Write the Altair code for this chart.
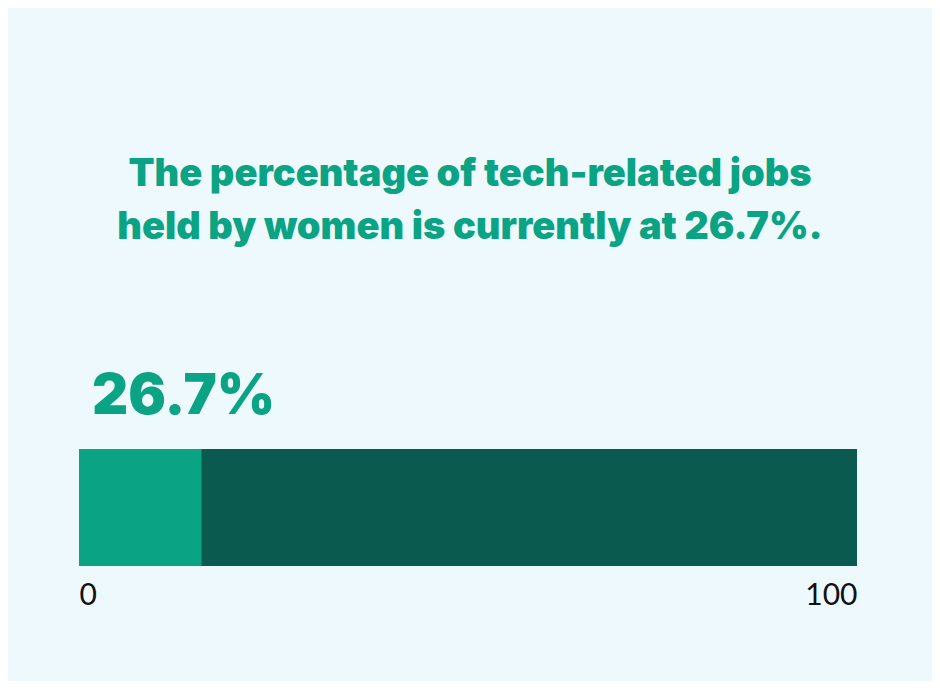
import altair as alt
import pandas as pd

# headline numbers and text
title_lines = ["The percentage of tech-related jobs", "held by women is currently at 26.7%."]
headline_value = [26.7]
segment_names = ["Women", "Everyone else"]
segment_start = [0, 15.7]
segment_end = [15.7, 100]
segment_colors = ["#0AA384", "#0B5A4F"]
axis_ticks = [0, 100]

BG = "#EEF9FE"
GREEN = "#0AA384"
HEAVY = "Inter"

bars_df = pd.DataFrame({"segment": segment_names, "start": segment_start, "end": segment_end})

bars = alt.Chart(bars_df).mark_bar(cornerRadius=0).encode(
    x=alt.X("start:Q", scale=alt.Scale(domain=[0, 100], nice=False, zero=True),
            axis=alt.Axis(values=axis_ticks, labelFlush=True, ticks=False, tickSize=0, domain=False,
                          grid=False, title=None, labelFontSize=30, labelFont="Lato",
                          labelColor="#111111", labelPadding=14)),
    x2="end:Q",
    y=alt.value(0),
    y2=alt.value(117),
    color=alt.Color("segment:N", scale=alt.Scale(domain=segment_names, range=segment_colors), legend=None),
)

def title_line(i, ypos):
    df = pd.DataFrame({"t": [title_lines[i]]})
    return alt.Chart(df).mark_text(
        font=HEAVY, fontSize=38, fontWeight=900, color=GREEN, align="center", baseline="alphabetic"
    ).encode(text="t:N", x=alt.value(391), y=alt.value(ypos))

value_df = pd.DataFrame({"v": headline_value})
headline = alt.Chart(value_df).transform_calculate(
    label="format(datum.v, '.1f') + '%'"
).mark_text(
    font=HEAVY, fontSize=56, fontWeight=900, color=GREEN, align="left", baseline="alphabetic"
).encode(text="label:N", x=alt.value(13), y=alt.value(-35))

# page must not scroll: 8px margins on each side
chart = alt.layer(bars, title_line(0, -263), title_line(1, -210), headline).properties(
    width=778,
    height=117,
    autosize=alt.AutoSizeParams(type="none"),
    padding={"left": 71, "top": 441, "right": 75, "bottom": 115},
    background=BG,
).configure_view(stroke=None)

chart.save("out.html", embed_options={"renderer": "svg", "actions": False})
